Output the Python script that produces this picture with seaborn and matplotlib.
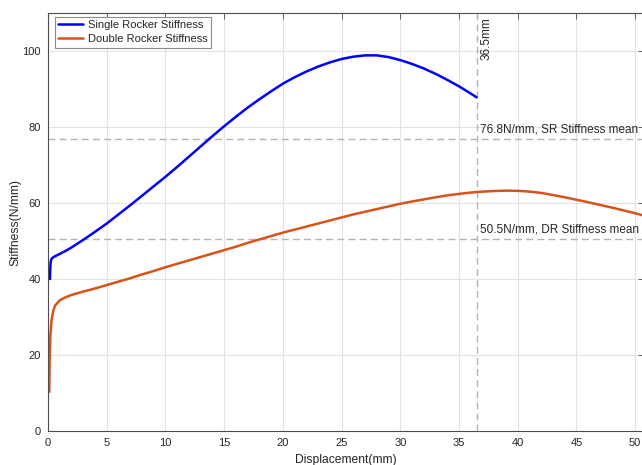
import numpy as np
import pandas as pd
import matplotlib
matplotlib.use("Agg")
import matplotlib.pyplot as plt
import seaborn as sns

# Single rocker stiffness curve
sr_disp = [0.17, 0.19, 0.22, 0.27, 0.35, 0.6, 1.0, 1.5, 2.0, 2.5, 3.0, 4.0, 5.0, 6.0,
           7.0, 8.0, 9.0, 10.0, 11.0, 12.0, 13.0, 14.0, 15.0, 16.0, 17.0, 18.0, 19.0,
           20.0, 21.0, 22.0, 23.0, 24.0, 25.0, 26.0, 27.0, 28.0, 29.0, 30.0, 31.0,
           32.0, 33.0, 34.0, 35.0, 36.0, 36.5]
sr_stiff = [40.0, 42.5, 44.3, 45.1, 45.5, 46.0, 46.6, 47.4, 48.3, 49.3, 50.3, 52.4, 54.6,
            57.0, 59.4, 61.9, 64.4, 66.9, 69.5, 72.2, 74.9, 77.6, 80.2, 82.7, 85.1, 87.3,
            89.4, 91.4, 93.1, 94.6, 95.9, 97.0, 97.9, 98.5, 98.85, 98.85, 98.4, 97.6, 96.6,
            95.4, 94.0, 92.4, 90.7, 88.8, 87.8]

# Double rocker stiffness curve
dr_disp = [0.11, 0.12, 0.14, 0.16, 0.2, 0.3, 0.45, 0.6, 1.0, 1.5, 2.0, 3.0, 4.0, 5.0,
           6.0, 7.0, 8.0, 9.0, 10.0, 11.0, 12.0, 13.0, 14.0, 15.0, 16.0, 17.0, 18.0,
           19.0, 20.0, 21.0, 22.0, 23.0, 24.0, 25.0, 26.0, 27.0, 28.0, 29.0, 30.0, 31.0,
           32.0, 33.0, 34.0, 35.0, 36.0, 37.0, 38.0, 39.0, 40.0, 41.0, 42.0, 43.0, 44.0,
           45.0, 46.0, 47.0, 48.0, 49.0, 50.0, 51.0]
dr_stiff = [10.3, 14.0, 18.0, 21.5, 25.0, 29.2, 31.6, 33.0, 34.4, 35.2, 35.8, 36.7, 37.5,
            38.4, 39.3, 40.2, 41.2, 42.1, 43.1, 44.0, 44.9, 45.8, 46.7, 47.6, 48.5, 49.5,
            50.4, 51.3, 52.2, 53.0, 53.8, 54.6, 55.4, 56.2, 57.0, 57.7, 58.4, 59.1, 59.8,
            60.4, 60.95, 61.5, 62.0, 62.4, 62.75, 63.0, 63.15, 63.25, 63.2, 63.0, 62.65, 62.1,
            61.5, 60.85, 60.2, 59.5, 58.8, 58.05, 57.3, 56.5]

sr_mean = 76.8
dr_mean = 50.5
end_disp = 36.5

sr_df = pd.DataFrame({"disp": sr_disp, "stiff": sr_stiff})
dr_df = pd.DataFrame({"disp": dr_disp, "stiff": dr_stiff})

sns.set_style("whitegrid")
plt.rcParams["font.family"] = ["Liberation Sans", "DejaVu Sans"]
plt.rcParams["text.color"] = "#262626"

fig = plt.figure(figsize=(6.42, 4.65), dpi=100)
ax = fig.add_axes([48 / 642, 34 / 465, 596 / 642, 418 / 465])

sns.lineplot(data=sr_df, x="disp", y="stiff", ax=ax, color="#0000ff", linewidth=1.8,
             label="Single Rocker Stiffness", sort=False)
sns.lineplot(data=dr_df, x="disp", y="stiff", ax=ax, color="#d95319", linewidth=1.8,
             label="Double Rocker Stiffness", sort=False)

# mean lines and end marker
ax.axhline(sr_mean, color="#b3b3b3", linestyle=(0, (5, 3)), linewidth=1.0, zorder=1)
ax.axhline(dr_mean, color="#b3b3b3", linestyle=(0, (5, 3)), linewidth=1.0, zorder=1)
ax.axvline(end_disp, color="#b3b3b3", linestyle=(0, (5, 3)), linewidth=1.0, zorder=1)

ax.text(end_disp + 0.3, sr_mean + 0.9, f"{sr_mean}N/mm, SR Stiffness mean",
        fontsize=8.5, ha="left", va="bottom")
ax.text(end_disp + 0.3, dr_mean + 0.9, f"{dr_mean}N/mm, DR Stiffness mean",
        fontsize=8.5, ha="left", va="bottom")
ax.text(end_disp + 0.35, 108.8, f"{end_disp}mm", rotation=90,
        fontsize=8.5, ha="left", va="top")

ax.set_xlim(0, 50.75)
ax.set_ylim(0, 110)
ax.set_xticks(np.arange(0, 51, 5))
ax.set_yticks(np.arange(0, 101, 20))
ax.grid(True, color="#e3e3e3", linewidth=0.8)
ax.set_axisbelow(True)

ax.tick_params(direction="in", length=4, width=0.6, colors="#4d4d4d",
               labelcolor="#262626", labelsize=8, top=True, right=True,
               pad=5)
for side in ["left", "bottom", "top", "right"]:
    ax.spines[side].set_color("#4d4d4d")
    ax.spines[side].set_linewidth(0.8)

ax.set_xlabel("Displacement(mm)", fontsize=8.7, labelpad=4)
ax.set_ylabel("Stiffness(N/mm)", fontsize=8.7, labelpad=1)

leg = ax.legend(loc="upper left", bbox_to_anchor=(7 / 596, 1 - 4 / 418),
                borderaxespad=0, fontsize=8, frameon=True, fancybox=False,
                framealpha=1, edgecolor="#8c8c8c", handlelength=2.2,
                handletextpad=0.5, labelspacing=0.35, borderpad=0.3)
leg.get_frame().set_linewidth(0.8)

plt.savefig("out.png", dpi=100)
